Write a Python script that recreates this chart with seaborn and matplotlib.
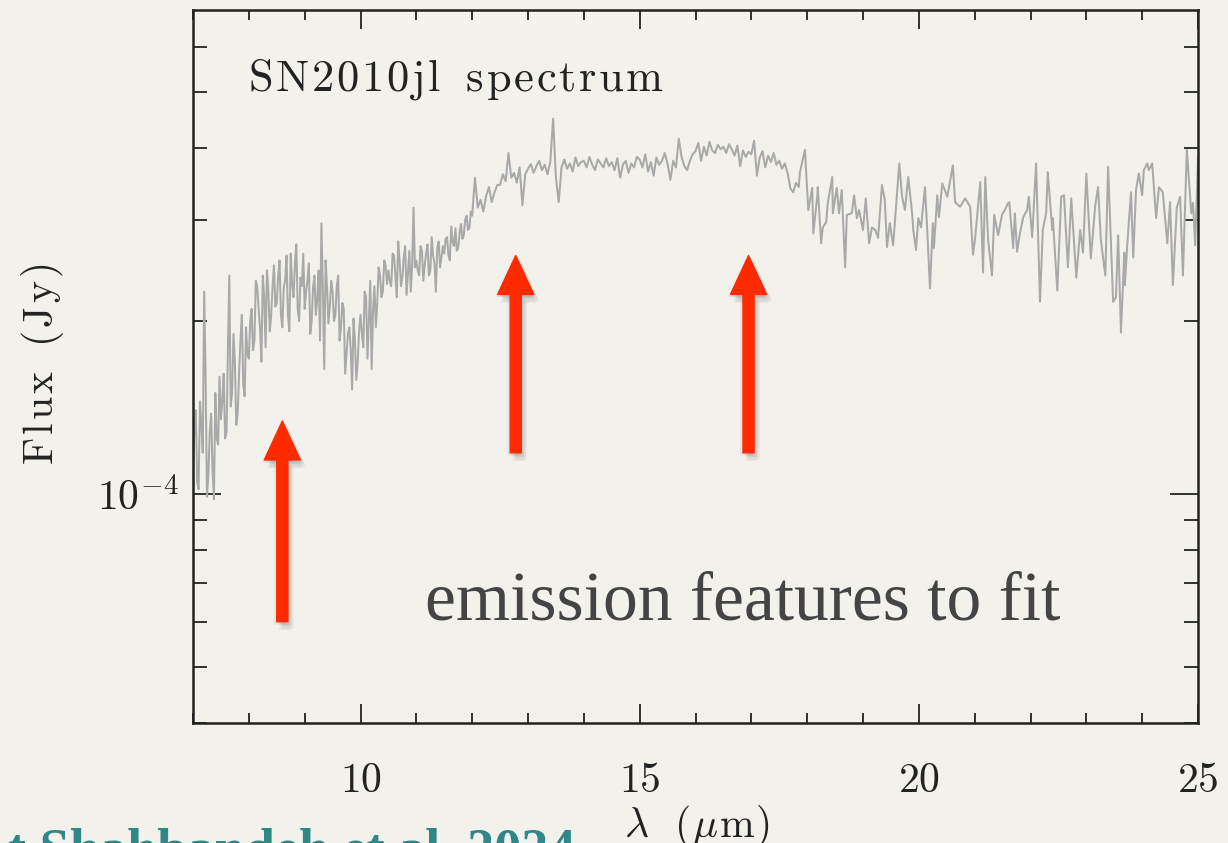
import numpy as np
import matplotlib
matplotlib.use("Agg")
import matplotlib.pyplot as plt
import matplotlib.patheffects as pe
from matplotlib.patches import FancyArrowPatch
from matplotlib.ticker import LogLocator, NullFormatter, FixedLocator, MultipleLocator
import seaborn as sns

# ---------------------------------------------------------------------------
# SN2010jl mid-IR spectrum (flux in units of 1e-4 Jy)
# Densely sampled part: 7.00 - 17.85 micron, step 0.05 micron (10 values per row)
flux_blue_e4 = [
    1.15, 1.40, 1.02, 1.32, 2.25, 0.99, 1.28, 1.10, 1.50, 1.22,   # 7.00
    1.35, 1.62, 1.28, 2.40, 1.50, 1.70, 1.38, 1.85, 1.55, 1.95,   # 7.50
    1.72, 2.10, 1.85, 2.30, 1.95, 2.40, 1.80, 2.25, 2.05, 2.50,   # 8.00
    2.15, 2.55, 1.95, 2.35, 2.05, 2.62, 2.20, 2.72, 2.00, 2.30,   # 8.50
    2.10, 2.35, 1.90, 2.28, 2.05, 2.45, 2.96, 1.65, 2.30, 2.12,   # 9.00
    2.25, 2.05, 2.40, 1.95, 2.10, 1.75, 1.95, 1.52, 1.85, 1.70,   # 9.50
    2.05, 1.80, 2.20, 2.00, 1.65, 2.30, 2.15, 2.40, 2.25, 2.50,   # 10.00
    2.45, 2.30, 2.60, 2.20, 2.55, 2.38, 2.70, 2.42, 2.25, 3.15,   # 10.50
    2.55, 2.40, 2.65, 2.50, 2.72, 2.45, 2.60, 2.25, 2.75, 2.58,   # 11.00
    2.62, 2.80, 2.55, 2.75, 2.90, 2.68, 2.95, 2.82, 3.05, 2.90,   # 11.50
    3.05, 3.55, 3.15, 3.25, 3.10, 3.30, 3.42, 3.22, 3.35, 3.45,   # 12.00
    3.45, 3.60, 3.50, 3.92, 3.55, 3.62, 3.48, 3.70, 3.18, 3.60,   # 12.50
    3.68, 3.75, 3.62, 3.72, 3.80, 3.66, 3.74, 3.60, 3.78, 4.50,   # 13.00
    3.55, 3.22, 3.70, 3.82, 3.68, 3.76, 3.64, 3.85, 3.72, 3.78,   # 13.50
    3.80, 3.70, 3.86, 3.74, 3.66, 3.82, 3.76, 3.70, 3.84, 3.72,   # 14.00
    3.78, 3.66, 3.84, 3.55, 3.74, 3.80, 3.62, 3.76, 3.70, 3.86,   # 14.50
    3.82, 3.70, 3.90, 3.64, 3.78, 3.58, 3.85, 3.74, 3.80, 3.92,   # 15.00
    3.75, 3.52, 3.80, 3.70, 4.15, 3.86, 3.72, 3.66, 3.80, 3.90,   # 15.50
    3.95, 4.08, 3.80, 4.02, 3.88, 4.10, 3.96, 3.92, 4.05, 3.98,   # 16.00
    4.02, 3.92, 4.06, 3.98, 3.88, 4.04, 3.72, 3.96, 3.86, 3.94,   # 16.50
    3.90, 4.12, 3.58, 3.85, 3.95, 3.70, 3.88, 3.78, 3.92, 3.74,   # 17.00
    3.80, 3.68, 3.76, 3.62, 3.40, 3.35, 3.48, 3.42,               # 17.50
]
wave_blue = np.round(7.0 + 0.05 * np.arange(len(flux_blue_e4)), 3)

# Extra samples between the above on the noisy short-wavelength side
# 7.025 - 11.975 micron, step 0.05 micron
flux_mid_e4 = [
    1.30, 1.05, 1.45, 1.18, 1.62, 1.08, 1.38, 0.98, 1.25, 1.60,   # 7.025
    1.45, 1.25, 1.78, 1.42, 1.90, 1.32, 1.62, 2.05, 1.48, 1.75,   # 7.525
    2.00, 1.78, 2.35, 2.10, 1.70, 2.20, 2.45, 1.92, 2.30, 2.12,   # 8.025
    2.40, 2.05, 2.28, 2.60, 1.92, 2.32, 2.50, 2.10, 2.38, 2.62,   # 8.525
    2.25, 2.52, 2.00, 2.40, 2.18, 1.85, 2.30, 2.55, 1.98, 2.35,   # 9.025
    2.00, 2.30, 1.85, 2.15, 1.62, 1.90, 1.78, 2.02, 1.58, 1.92,   # 9.525
    1.90, 2.25, 1.72, 2.35, 2.10, 1.95, 2.48, 2.20, 2.55, 2.32,   # 10.025
    2.35, 2.62, 2.40, 2.75, 2.30, 2.58, 2.22, 2.65, 2.50, 2.48,   # 10.525
    2.45, 2.70, 2.35, 2.62, 2.40, 2.80, 2.52, 2.68, 2.48, 2.70,   # 11.025
    2.78, 2.60, 2.92, 2.70, 2.65, 2.85, 2.78, 3.00, 2.88, 3.10,   # 11.525
]
wave_mid = np.round(7.025 + 0.05 * np.arange(len(flux_mid_e4)), 3)

# Long-wavelength part (irregular sampling)
wave_red = [
    17.87, 17.96, 18.02, 18.09, 18.11, 18.18, 18.19, 18.25, 18.28, 18.34,
    18.37, 18.45, 18.46, 18.53, 18.57, 18.62, 18.68, 18.71, 18.80, 18.84,
    18.89, 18.93, 19.00, 19.05, 19.11, 19.16, 19.22, 19.27, 19.34, 19.39,
    19.43, 19.48, 19.54, 19.61, 19.65, 19.70, 19.75, 19.81, 19.88, 19.90,
    19.95, 19.99, 20.04, 20.11, 20.15, 20.20, 20.25, 20.27, 20.33, 20.36,
    20.42, 20.51, 20.61, 20.65, 20.74, 20.83, 20.92, 20.97, 21.01, 21.10,
    21.15, 21.19, 21.24, 21.31, 21.35, 21.42, 21.49, 21.54, 21.60, 21.62,
    21.69, 21.72, 21.76, 21.81, 21.87, 21.94, 21.97, 22.03, 22.10, 22.17,
    22.22, 22.28, 22.31, 22.39, 22.40, 22.48, 22.55, 22.60, 22.67, 22.73,
    22.82, 22.89, 22.94, 23.00, 23.08, 23.16, 23.21, 23.26, 23.34, 23.39,
    23.48, 23.53, 23.57, 23.62, 23.68, 23.69, 23.73, 23.80, 23.84, 23.89,
    23.94, 24.00, 24.03, 24.09, 24.12, 24.18, 24.25, 24.30, 24.37, 24.45,
    24.50, 24.55, 24.62, 24.68, 24.73, 24.80, 24.88, 24.91, 24.95, 25.00,
]
flux_red_e4 = [
    3.63, 3.97, 3.12, 3.41, 2.84, 3.29, 3.42, 2.73, 2.91, 2.97,
    3.21, 3.56, 3.08, 3.41, 3.08, 3.38, 2.48, 3.06, 3.08, 3.31,
    3.02, 3.12, 2.88, 3.27, 2.73, 2.91, 2.88, 2.79, 3.45, 3.25,
    2.69, 2.96, 2.71, 3.34, 3.76, 3.29, 3.12, 3.56, 3.08, 2.88,
    2.66, 3.02, 2.91, 3.42, 2.88, 2.28, 2.96, 2.68, 3.31, 3.03,
    3.47, 3.29, 3.73, 3.22, 3.16, 3.27, 3.16, 2.61, 2.80, 3.49,
    2.43, 3.56, 2.77, 2.40, 3.06, 2.82, 3.06, 3.12, 3.21, 3.22,
    2.68, 3.08, 2.64, 2.84, 3.03, 3.12, 3.29, 2.80, 3.76, 2.16,
    2.88, 3.08, 3.63, 2.88, 3.02, 2.26, 3.29, 3.31, 2.48, 3.27,
    2.38, 2.88, 2.63, 3.61, 2.57, 3.18, 3.42, 2.77, 2.40, 3.71,
    2.16, 2.20, 2.82, 1.91, 2.63, 2.31, 2.69, 3.35, 2.58, 3.38,
    3.61, 3.31, 3.66, 3.76, 3.66, 3.76, 3.02, 3.42, 3.35, 2.73,
    3.22, 2.31, 3.15, 3.29, 2.40, 3.97, 3.08, 3.21, 2.71, 3.84,
]

wavelength = np.concatenate([wave_blue, wave_mid, np.array(wave_red)])
flux = np.concatenate([np.array(flux_blue_e4), np.array(flux_mid_e4),
                       np.array(flux_red_e4)]) * 1e-4
order = np.argsort(wavelength, kind="stable")
wavelength, flux = wavelength[order], flux[order]

# Arrows marking the emission features (wavelength, tail flux, tip flux)
arrow_wave = [8.60, 12.78, 16.95]
arrow_tail = [0.60e-4, 1.18e-4, 1.18e-4]
arrow_tip = [1.34e-4, 2.60e-4, 2.60e-4]

x_tick_values = [10, 15, 20, 25]
x_tick_labels = [r"$10$", r"$15$", r"$20$", r"$25$"]


def spaced_rm(text, gap):
    """Upright mathtext string with a little extra tracking between letters."""
    words = []
    for word in text.split(" "):
        words.append((r"\hspace{%g}" % gap).join(word))
    return r"$\mathrm{" + r"\ \ ".join(words) + "}$"


# ---------------------------------------------------------------------------
paper = "#f3f1ec"
ink = "#222222"
sns.set_theme(style="ticks")
plt.rcParams["mathtext.fontset"] = "cm"
plt.rcParams["font.family"] = ["DejaVu Sans"]

fig = plt.figure(figsize=(12.28, 8.43), dpi=100, facecolor=paper)
ax = fig.add_axes([193 / 1228, 1 - 723 / 843, (1198 - 193) / 1228, (723 - 10) / 843])
ax.set_facecolor(paper)

sns.lineplot(x=wavelength, y=flux, ax=ax, color="#a9a9a9", linewidth=1.45,
             estimator=None, sort=False, legend=False)

ax.set_yscale("log")
ax.set_xlim(7, 25)
ax.set_ylim(4e-5, 6.95e-4)

# ticks on all four sides, pointing inward
ax.xaxis.set_major_locator(FixedLocator(x_tick_values))
ax.set_xticklabels(x_tick_labels)
ax.xaxis.set_minor_locator(MultipleLocator(1))
ax.yaxis.set_major_locator(FixedLocator([1e-4]))
ax.set_yticklabels([r"$10^{-4}$"])
ax.yaxis.set_minor_locator(LogLocator(base=10, subs=np.arange(2, 10), numticks=20))
ax.yaxis.set_minor_formatter(NullFormatter())

ax.tick_params(axis="both", which="both", direction="in", top=True, right=True,
               color=ink, width=1.3)
ax.tick_params(axis="x", which="major", length=14, pad=26, labelsize=30, labelcolor=ink)
ax.tick_params(axis="x", which="minor", length=7)
ax.tick_params(axis="y", which="major", length=20, pad=10, labelsize=30, labelcolor=ink)
ax.tick_params(axis="y", which="minor", length=10)
for s in ax.spines.values():
    s.set_color(ink)
    s.set_linewidth(1.8)

ax.set_xlabel("")
ax.set_ylabel("")

# axis titles
fig.text(42 / 1228, 1 - 364 / 843, spaced_rm("Flux (Jy)", 0.09), rotation=90,
         ha="center", va="center", fontsize=30, color=ink)
fig.text(697 / 1228, 1 - 826 / 843,
         r"$\lambda\hspace{0.05}\ \ (\hspace{0.05}\mu\hspace{0.05}\mathrm{m}\hspace{0.05})$",
         ha="center", va="center", fontsize=30, color=ink)

# panel title
ax.text((248 - 193) / 1005, 1 - (80 - 10) / 713, spaced_rm("SN2010jl spectrum", 0.07),
        transform=ax.transAxes, ha="left", va="center", fontsize=32, color=ink)

# annotation text
fig.text(425 / 1228, 1 - 620 / 843, "emission features to fit",
         family="Liberation Serif", fontsize=50, color="#444444",
         ha="left", va="baseline")

# citation (runs off the bottom edge)
fig.text(8 / 1228, 1 - 866 / 843, "t Shahbandeh et al. 2024",
         family="Liberation Serif", fontweight="bold", fontsize=39,
         color="#2f8787", ha="left", va="baseline")

# red arrows with a soft shadow
shadow = [pe.SimplePatchShadow(offset=(dx, dy), shadow_rgbFace="#000000", alpha=0.05)
          for dx, dy in [(1, -2), (3, -3), (4, -5), (-2, -2), (2, -6)]] + [pe.Normal()]
for xw, yt, yh in zip(arrow_wave, arrow_tail, arrow_tip):
    arr = FancyArrowPatch((xw, yt), (xw, yh),
                          arrowstyle="simple,head_length=28,head_width=26,tail_width=8",
                          mutation_scale=1, color="#ff2a00", shrinkA=0, shrinkB=0,
                          path_effects=shadow, zorder=5)
    ax.add_patch(arr)

fig.savefig("out.png", dpi=100, facecolor=paper)
